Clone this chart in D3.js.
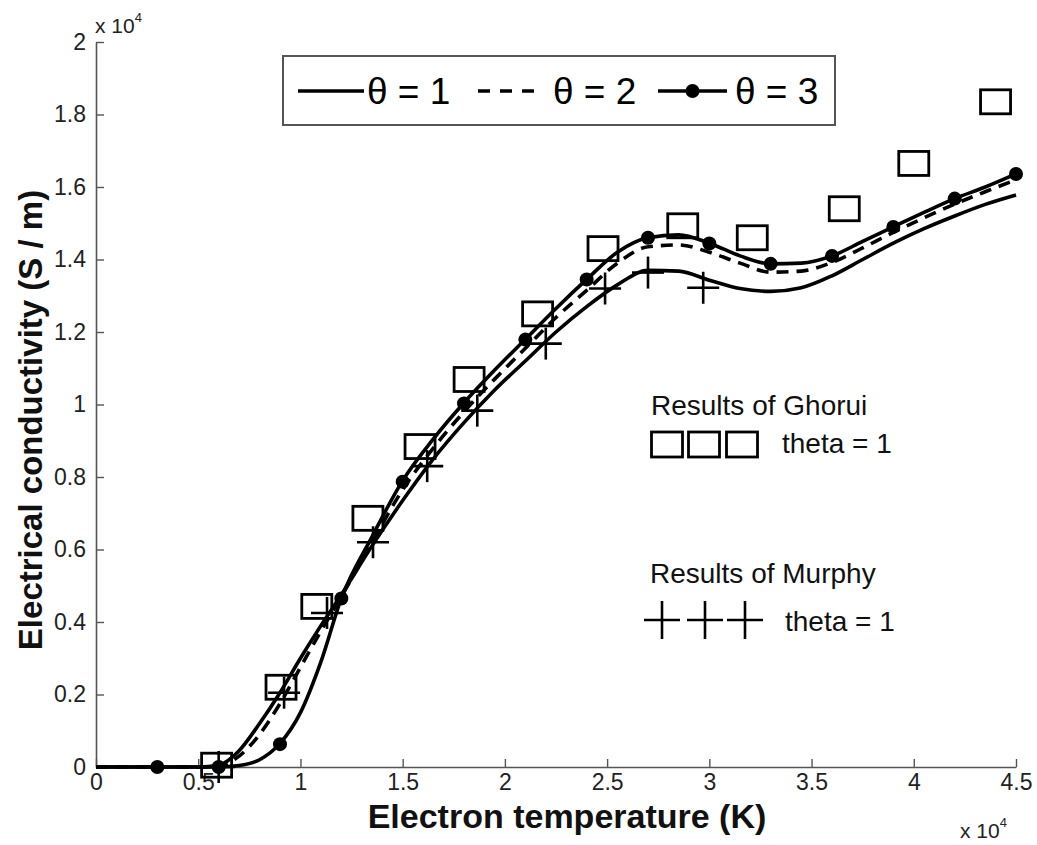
<!DOCTYPE html>
<html>
<head>
<meta charset="utf-8">
<script src="https://cdn.jsdelivr.net/npm/d3@7/dist/d3.min.js"></script>
<style>
  html, body { margin: 0; padding: 0; background: #fff; }
  svg { display: block; font-family: "Liberation Sans", Arial, Helvetica, sans-serif; }
  .tick text { font-size: 23px !important; }
</style>
</head>
<body>
<svg id="chart" width="1037" height="845"></svg>
<script>
// ---- data (temperatures and conductivities in units of 1e4) ----
const tempGrid = [0, 0.5, 0.6, 0.7, 0.8, 0.9, 1.0, 1.1, 1.2, 1.35, 1.5, 1.65, 1.8, 1.95, 2.1, 2.25, 2.4, 2.55, 2.7, 2.85, 3.0, 3.15, 3.3, 3.45, 3.6, 3.75, 3.9, 4.05, 4.2, 4.35, 4.5];
const theta1 = [0, 0, 0.005, 0.045, 0.12, 0.205, 0.30, 0.39, 0.475, 0.61, 0.735, 0.85, 0.95, 1.04, 1.12, 1.20, 1.27, 1.33, 1.37, 1.368, 1.343, 1.32, 1.312, 1.322, 1.355, 1.40, 1.445, 1.485, 1.52, 1.552, 1.578];
const theta2 = [0, 0, 0.003, 0.03, 0.09, 0.175, 0.275, 0.375, 0.47, 0.62, 0.765, 0.88, 0.98, 1.07, 1.155, 1.24, 1.315, 1.39, 1.435, 1.44, 1.42, 1.39, 1.365, 1.368, 1.392, 1.432, 1.475, 1.515, 1.553, 1.587, 1.62];
const theta3 = [0, 0, 0, 0.004, 0.02, 0.065, 0.15, 0.29, 0.465, 0.635, 0.79, 0.905, 1.005, 1.095, 1.18, 1.265, 1.345, 1.42, 1.46, 1.468, 1.445, 1.41, 1.388, 1.39, 1.41, 1.45, 1.49, 1.53, 1.568, 1.60, 1.636];

const dotTemps = [0.3, 0.6, 0.9, 1.2, 1.5, 1.8, 2.1, 2.4, 2.7, 3.0, 3.3, 3.6, 3.9, 4.2, 4.5];
const dotVals  = [0, 0, 0.063, 0.465, 0.787, 1.003, 1.179, 1.345, 1.46, 1.444, 1.388, 1.41, 1.49, 1.568, 1.636];

const ghoruiTemps = [0.59, 0.905, 1.08, 1.33, 1.585, 1.825, 2.16, 2.48, 2.87, 3.21, 3.66, 4.0, 4.4];
const ghoruiVals  = [0.005, 0.22, 0.443, 0.686, 0.884, 1.069, 1.25, 1.43, 1.493, 1.46, 1.54, 1.665, 1.835];

const murphyTemps = [0.6, 0.92, 1.13, 1.355, 1.62, 1.865, 2.2, 2.49, 2.7, 2.97];
const murphyVals  = [0.0, 0.205, 0.425, 0.62, 0.83, 0.983, 1.168, 1.32, 1.364, 1.322];

const xTicks = [0, 0.5, 1, 1.5, 2, 2.5, 3, 3.5, 4, 4.5];
const yTicks = [0, 0.2, 0.4, 0.6, 0.8, 1, 1.2, 1.4, 1.6, 1.8, 2];
const legendLabels = ["θ = 1", "θ = 2", "θ = 3"];

// ---- layout ----
const svg = d3.select("#chart");
const X0 = 96, X1 = 1016, Y0 = 767, Y1 = 42;
const x = d3.scaleLinear().domain([0, 4.5]).range([X0, X1]);
const y = d3.scaleLinear().domain([0, 2]).range([Y0, Y1]);
const axisColor = "#555";
const textColor = "#222";

// axes
const xAxis = d3.axisBottom(x).tickValues(xTicks).tickSizeInner(-8).tickSizeOuter(0).tickPadding(13)
  .tickFormat(d => d3.format("~g")(d));
const yAxis = d3.axisLeft(y).tickValues(yTicks).tickSizeInner(-8).tickSizeOuter(0).tickPadding(10)
  .tickFormat(d => d3.format("~g")(d));

const gx = svg.append("g").attr("transform", `translate(0,${Y0})`).call(xAxis);
const gy = svg.append("g").attr("transform", `translate(${X0},0)`).call(yAxis);
[gx, gy].forEach(g => {
  g.attr("font-size", 23).attr("font-family", "'Liberation Sans', Arial, sans-serif");
  g.select(".domain").attr("stroke", axisColor).attr("stroke-width", 1.6);
  g.selectAll(".tick line").attr("stroke", axisColor).attr("stroke-width", 1.4);
  g.selectAll(".tick text").attr("fill", textColor);
});
gx.selectAll(".tick text").attr("dy", "0.45em");

// exponent labels
const exp1 = svg.append("text").attr("x", 95).attr("y", 33).attr("fill", textColor)
  .attr("font-size", 21);
exp1.append("tspan").text("x 10");
exp1.append("tspan").attr("dy", -11).attr("font-size", 13).text("4");

const exp2 = svg.append("text").attr("x", 960).attr("y", 838).attr("fill", textColor)
  .attr("font-size", 21);
exp2.append("tspan").text("x 10");
exp2.append("tspan").attr("dy", -11).attr("font-size", 13).text("4");

// axis titles
svg.append("text").attr("x", 567).attr("y", 828).attr("text-anchor", "middle")
  .attr("font-size", 34).attr("font-weight", "bold").attr("fill", "#111")
  .text("Electron temperature (K)");
svg.append("text").attr("transform", "translate(42,420) rotate(-90)").attr("text-anchor", "middle")
  .attr("font-size", 33).attr("font-weight", "bold").attr("fill", "#111")
  .text("Electrical conductivity (S / m)");

// curves
const line = d3.line().x(d => x(d[0])).y(d => y(d[1])).curve(d3.curveMonotoneX);
const series = [
  { vals: theta1, dash: null },
  { vals: theta2, dash: "12,8" },
  { vals: theta3, dash: null }
];
series.forEach(s => {
  svg.append("path")
    .datum(tempGrid.map((t, i) => [t, s.vals[i]]))
    .attr("d", line).attr("fill", "none").attr("stroke", "#000")
    .attr("stroke-width", 3.6).attr("stroke-linejoin", "round")
    .attr("stroke-dasharray", s.dash);
});

// dots on theta=3
svg.append("g").selectAll("circle")
  .data(dotTemps.map((t, i) => [t, dotVals[i]]))
  .join("circle").attr("cx", d => x(d[0])).attr("cy", d => y(d[1])).attr("r", 7).attr("fill", "#000");

// Ghorui squares
const sqW = 30, sqH = 24;
svg.append("g").selectAll("rect")
  .data(ghoruiTemps.map((t, i) => [t, ghoruiVals[i]]))
  .join("rect").attr("x", d => x(d[0]) - sqW / 2).attr("y", d => y(d[1]) - sqH / 2)
  .attr("width", sqW).attr("height", sqH).attr("fill", "none").attr("stroke", "#000").attr("stroke-width", 2.8);

// Murphy pluses
const pl = 16;
const plusG = svg.append("g").attr("stroke", "#000").attr("stroke-width", 2.6);
murphyTemps.forEach((t, i) => {
  const cx = x(t), cy = y(murphyVals[i]);
  plusG.append("line").attr("x1", cx - pl).attr("x2", cx + pl).attr("y1", cy).attr("y2", cy);
  plusG.append("line").attr("x1", cx).attr("x2", cx).attr("y1", cy - pl).attr("y2", cy + pl);
});

// legend box
const leg = svg.append("g");
leg.append("rect").attr("x", 283).attr("y", 56).attr("width", 552).attr("height", 69)
  .attr("fill", "#fff").attr("stroke", "#555").attr("stroke-width", 2);
const legItems = [
  { x1: 298, x2: 364, tx: 367, dash: null, dot: false },
  { x1: 478, x2: 540, tx: 553, dash: "12,10", dot: false },
  { x1: 658, x2: 727, tx: 735, dash: null, dot: true }
];
legItems.forEach((it, i) => {
  leg.append("line").attr("x1", it.x1).attr("x2", it.x2).attr("y1", 91).attr("y2", 91)
    .attr("stroke", "#000").attr("stroke-width", 3.6).attr("stroke-dasharray", it.dash);
  if (it.dot) leg.append("circle").attr("cx", (it.x1 + it.x2) / 2).attr("cy", 91).attr("r", 7).attr("fill", "#000");
  leg.append("text").attr("x", it.tx).attr("y", 104).attr("font-size", 37).attr("fill", "#000")
    .text(legendLabels[i]);
});

// annotations
svg.append("text").attr("x", 651).attr("y", 415).attr("font-size", 28).attr("fill", "#111").text("Results of Ghorui");
[667, 704, 742].forEach(cx => {
  svg.append("rect").attr("x", cx - 15.5).attr("y", 432).attr("width", 31).attr("height", 25)
    .attr("fill", "none").attr("stroke", "#000").attr("stroke-width", 2.8);
});
svg.append("text").attr("x", 782).attr("y", 453).attr("font-size", 28).attr("fill", "#111").text("theta = 1");

svg.append("text").attr("x", 650).attr("y", 583).attr("font-size", 28).attr("fill", "#111").text("Results of Murphy");
[662, 705, 745].forEach(cx => {
  const g = svg.append("g").attr("stroke", "#000").attr("stroke-width", 2.6);
  g.append("line").attr("x1", cx - 18).attr("x2", cx + 18).attr("y1", 620).attr("y2", 620);
  g.append("line").attr("x1", cx).attr("x2", cx).attr("y1", 601).attr("y2", 639);
});
svg.append("text").attr("x", 785).attr("y", 631).attr("font-size", 28).attr("fill", "#111").text("theta = 1");
</script>
</body>
</html>
